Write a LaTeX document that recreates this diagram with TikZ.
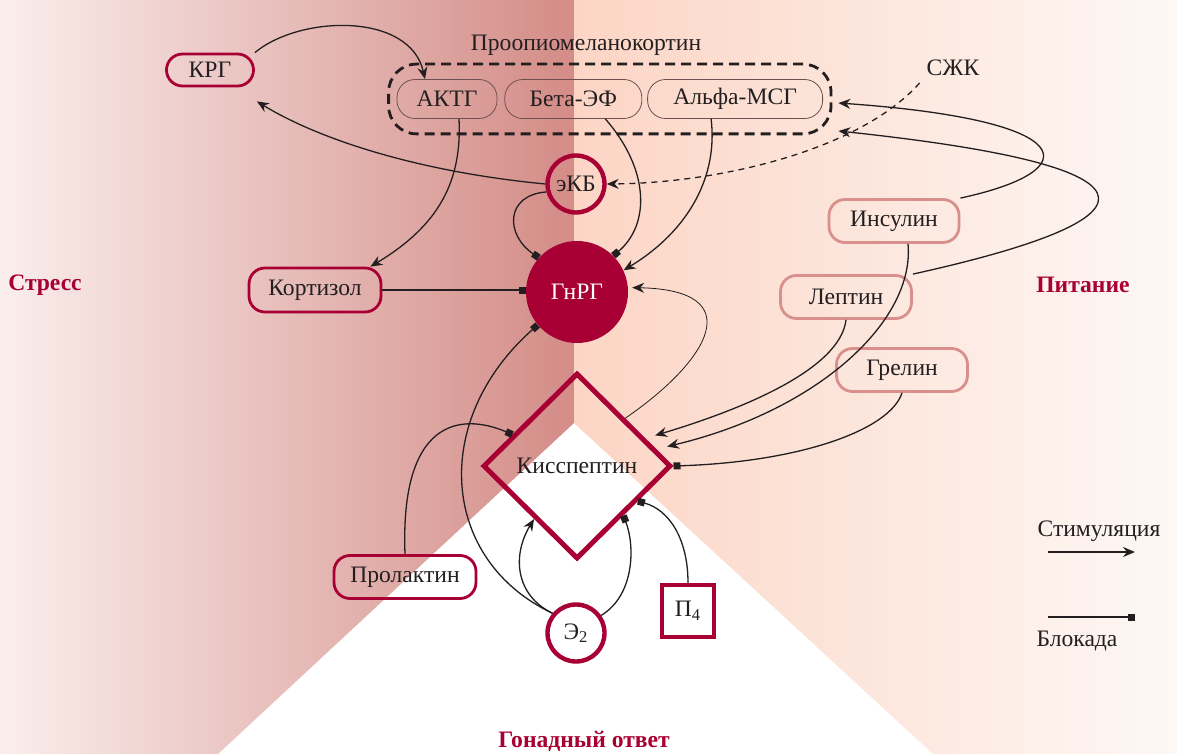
\documentclass[tikz,border=0pt]{standalone}
\usepackage{fontspec}
\setmainfont{Liberation Serif}
\usetikzlibrary{shapes.geometric, arrows.meta, positioning, fit, calc}
\definecolor{crimson}{RGB}{168,0,52}
\definecolor{rose}{RGB}{217,143,140}
\definecolor{ink}{RGB}{35,31,32}
\definecolor{pomcline}{RGB}{110,80,80}
\definecolor{stressL}{RGB}{250,238,236}
\definecolor{stressM}{RGB}{236,204,200}
\definecolor{stressR}{RGB}{212,140,135}
\definecolor{feedL}{RGB}{252,213,197}
\definecolor{feedR}{RGB}{253,248,245}
\tikzset{
    hormone/.style={rectangle, rounded corners=8pt, draw=crimson, line width=1.4pt,
                    minimum height=21.5pt, align=center, text=ink,
                    font=\fontsize{11.8}{14}\selectfont},
    nutrient/.style={hormone, draw=rose},
    pomcpart/.style={rectangle, rounded corners=9pt, draw=pomcline, line width=0.4pt,
                     minimum height=19.5pt, text=ink, font=\fontsize{11.8}{14}\selectfont},
    pomcbox/.style={rectangle, rounded corners=14pt, draw=ink, line width=1.4pt,
                    dash pattern=on 5pt off 3pt, inner xsep=4pt, inner ysep=7.5pt},
    ringnode/.style={circle, draw=crimson, line width=2.2pt, minimum size=28.5pt,
                     inner sep=0pt, text=ink, font=\fontsize{11.8}{14}\selectfont},
    corenode/.style={circle, fill=crimson, minimum size=51pt, inner sep=0pt,
                     text=white, font=\fontsize{11.8}{14}\selectfont},
    kissbox/.style={diamond, draw=crimson, line width=2.5pt, minimum width=94pt,
                    minimum height=93pt, inner sep=0pt, text=ink,
                    font=\fontsize{11.8}{14}\selectfont},
    squarebox/.style={rectangle, draw=crimson, line width=2.2pt, minimum size=26pt,
                      inner sep=0pt, text=ink, font=\fontsize{11.8}{14}\selectfont},
    stimul/.style={-{Stealth[length=6pt, width=5pt, inset=2pt]}, line width=0.65pt, draw=ink},
    blockade/.style={-{Square[length=3.5pt, width=3.5pt]}, line width=0.65pt, draw=ink},
    lbl/.style={text=ink, font=\fontsize{11.8}{14}\selectfont},
    sidelbl/.style={text=crimson, font=\fontsize{11.8}{14}\selectfont\bfseries},
}
\begin{document}
\begin{tikzpicture}[x=0.5pt, y=-0.5pt]

    \useasboundingbox (0,0) rectangle (1177,754);
    \fill[white] (0,0) rectangle (1177,754);

    % background wedges
    \shade[left color=stressL, middle color=stressM, right color=stressR]
        (0,0) -- (574,0) -- (574,423) -- (218,754) -- (0,754) -- cycle;
    \shade[left color=feedL, right color=feedR]
        (574,0) -- (1177,0) -- (1177,754) -- (933,754) -- (574,423) -- cycle;

    \node[sidelbl] (stress) at (45,285) {Стресс};
    \node[sidelbl] (feed) at (1083,285) {Питание};
    \node[sidelbl] (gonad) at (584,741) {Гонадный ответ};

    \node[hormone, minimum width=43.5pt, minimum height=16pt] (krg) at (210,70) {КРГ};

    % proopiomelanocortin group
    \node[pomcpart, minimum width=50pt] (aktg) at (447,99) {АКТГ};
    \node[pomcpart, minimum width=68.5pt, right=3.5pt of aktg] (beta) {Бета-ЭФ};
    \node[pomcpart, minimum width=87.5pt, right=2.5pt of beta] (alfa) {Альфа-МСГ};
    \node[pomcbox, fit=(aktg)(alfa)] (pomc) {};
    \node[lbl] (pomctext) at (586,45) {Проопиомеланокортин};

    \node[lbl] (szhk) at (953,68) {СЖК};

    \node[ringnode] (ekb) at (576,184) {эКБ};
    \node[corenode] (gnrg) at (577,292) {ГнРГ};
    \node[hormone, minimum width=66pt, minimum height=22pt] (kortizol) at (315,290) {Кортизол};

    \node[nutrient, minimum width=65pt] (insulin) at (894,221) {Инсулин};
    \node[nutrient, minimum width=65.5pt] (leptin) at (846,297) {Лептин};
    \node[nutrient, minimum width=65.5pt] (grelin) at (902,370) {Грелин};

    \node[kissbox] (kiss) at (577,466) {Кисспептин};
    \node[hormone, minimum width=71pt] (prolactin) at (405,577) {Пролактин};
    \node[ringnode] (e2) at (576,633) {Э\textsubscript{2}};
    \node[squarebox] (p4) at (688,611) {П\textsubscript{4}};

    % connectors
    \draw[stimul] (krg.north east) .. controls (300,15) and (410,12) .. ([xshift=-11pt]aktg.north);
    \draw[stimul] (ekb.west) .. controls (420,172) and (320,140) .. ([xshift=1pt,yshift=-7pt]krg.south east);
    \draw[stimul] ([xshift=6pt]aktg.south) .. controls (462,180) and (440,225) .. ([xshift=-6pt]kortizol.north east);
    \draw[blockade] ([xshift=16pt]beta.south) .. controls (650,170) and (650,225) .. (gnrg.45);
    \draw[stimul] ([xshift=-12pt]alfa.south) .. controls (718,175) and (690,230) .. (gnrg.25);
    \draw[blockade] (ekb.195) .. controls (505,195) and (505,235) .. (gnrg.138);
    \draw[stimul, dash pattern=on 3pt off 2.5pt] (szhk.south west) .. controls (860,150) and (720,183) .. (ekb.east);

    \draw[blockade] (kortizol.east) -- (kortizol.east -| gnrg.west);

    \draw[stimul] (insulin.north east) .. controls (1090,170) and (1080,120) .. ([xshift=3pt,yshift=-2pt]pomc.east);
    \draw[stimul] (leptin.north east) .. controls (1180,215) and (1160,165) .. ([xshift=3pt,yshift=-16pt]pomc.east);

    \draw[stimul, shorten >=5pt] (leptin.south) .. controls (840,370) and (740,410) .. (kiss.22);
    \draw[stimul, shorten >=5.5pt] ([xshift=7pt]insulin.south) .. controls (915,320) and (820,410) .. (kiss.12);
    \draw[blockade] (grelin.south) .. controls (890,430) and (800,462) .. (kiss.east);

    \draw[stimul, line width=0.4pt, shorten >=2pt] (kiss.north east) .. controls (710,360) and (750,290) .. (gnrg.5);

    \draw[blockade] (e2.140) .. controls (440,560) and (430,420) .. (gnrg.220);
    \draw[stimul] (e2.140) .. controls (515,595) and (512,555) .. (kiss.-129);
    \draw[blockade] (e2.35) .. controls (635,595) and (635,545) .. (kiss.-47);
    \draw[blockade] (p4.north) .. controls (688,540) and (670,510) .. (kiss.-30);
    \draw[blockade] (prolactin.north) .. controls (400,420) and (460,412) .. (kiss.154);

    % legend
    \node[lbl] (stimtext) at (1099,531) {Стимуляция};
    \coordinate (stimA) at (1048,552);
    \coordinate (stimB) at (1135,552);
    \draw[stimul, line width=1pt] (stimA) -- (stimB);
    \coordinate (blokA) at (1048,617);
    \coordinate (blokB) at (1135,617);
    \draw[blockade, line width=1pt] (blokA) -- (blokB);
    \node[lbl] (bloktext) at (1077,641) {Блокада};

\end{tikzpicture}
\end{document}
